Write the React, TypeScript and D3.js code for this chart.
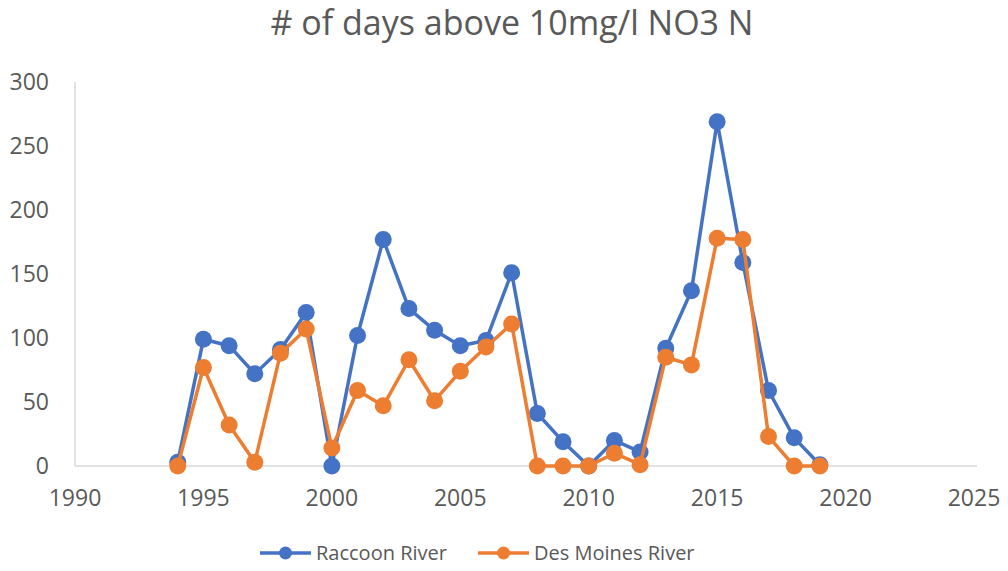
import * as d3 from "d3";
import { useEffect, useRef } from "react";

const years = [1994, 1995, 1996, 1997, 1998, 1999, 2000, 2001, 2002, 2003, 2004, 2005, 2006,
  2007, 2008, 2009, 2010, 2011, 2012, 2013, 2014, 2015, 2016, 2017, 2018, 2019];
const raccoon = [3, 99, 94, 72, 91, 120, 0, 102, 177, 123, 106, 94, 98,
  151, 41, 19, 0, 20, 11, 92, 137, 269, 159, 59, 22, 1];
const desMoines = [0, 77, 32, 3, 88, 107, 14, 59, 47, 83, 51, 74, 93,
  111, 0, 0, 0, 10, 1, 85, 79, 178, 177, 23, 0, 0];
const xTicks = [1990, 1995, 2000, 2005, 2010, 2015, 2020, 2025];
const yTicks = [0, 50, 100, 150, 200, 250, 300];

const series = [
  { name: "Raccoon River", values: raccoon, color: "#4472C4" },
  { name: "Des Moines River", values: desMoines, color: "#ED7D31" },
];

const W = 1008;
const H = 571;
const FONT = "'Open Sans', sans-serif";
const TEXT = "#595959";

const App = () => {
  const ref = useRef(null);

  useEffect(() => {
    const svg = d3.select(ref.current);
    svg.selectAll("*").remove();

    const x = d3.scaleLinear().domain([1990, 2025]).range([75, 974]);
    const y = d3.scaleLinear().domain([0, 300]).range([466, 82]);

    svg.append("text")
      .attr("x", 512).attr("y", 35)
      .attr("text-anchor", "middle")
      .style("font-family", FONT).style("font-size", "34px").style("fill", TEXT)
      .text("# of days above 10mg/l NO3 N");

    // axis lines
    svg.append("line")
      .attr("x1", x(1990)).attr("x2", x(1990))
      .attr("y1", y(300)).attr("y2", y(0))
      .attr("stroke", "#d9d9d9").attr("stroke-width", 1.5);
    svg.append("line")
      .attr("x1", x(1990)).attr("x2", x(2025) + 3)
      .attr("y1", y(0)).attr("y2", y(0))
      .attr("stroke", "#d9d9d9").attr("stroke-width", 1.5);

    svg.append("g").selectAll("text").data(yTicks).enter().append("text")
      .attr("x", 49).attr("y", d => y(d))
      .attr("dy", "0.35em")
      .attr("text-anchor", "end")
      .style("font-family", FONT).style("font-size", "23px").style("fill", TEXT)
      .text(d => d);

    svg.append("g").selectAll("text").data(xTicks).enter().append("text")
      .attr("x", d => x(d)).attr("y", 506)
      .attr("text-anchor", "middle")
      .style("font-family", FONT).style("font-size", "23px").style("fill", TEXT)
      .text(d => d);

    const line = d3.line<number>()
      .x((_, i) => x(years[i]))
      .y(d => y(d));

    series.forEach(s => {
      const g = svg.append("g");
      g.append("path")
        .attr("d", line(s.values))
        .attr("fill", "none")
        .attr("stroke", s.color)
        .attr("stroke-width", 3.5)
        .attr("stroke-linejoin", "round");
      g.selectAll("circle").data(s.values).enter().append("circle")
        .attr("cx", (_, i) => x(years[i]))
        .attr("cy", d => y(d))
        .attr("r", 8.5)
        .attr("fill", s.color);
    });

    // legend
    const legendX = [260, 478];
    series.forEach((s, i) => {
      const g = svg.append("g").attr("transform", `translate(${legendX[i]}, 553)`);
      g.append("line").attr("x1", 0).attr("x2", 51).attr("y1", 0).attr("y2", 0)
        .attr("stroke", s.color).attr("stroke-width", 3.5);
      g.append("circle").attr("cx", 25.5).attr("cy", 0).attr("r", 6.5).attr("fill", s.color);
      g.append("text").attr("x", 56).attr("y", 0).attr("dy", "0.35em")
        .style("font-family", FONT).style("font-size", "20px").style("fill", TEXT)
        .text(s.name);
    });
  }, []);

  return <svg ref={ref} width={W} height={H} style={{ position: "absolute", left: 0, top: 0 }} />;
};

export default App;
